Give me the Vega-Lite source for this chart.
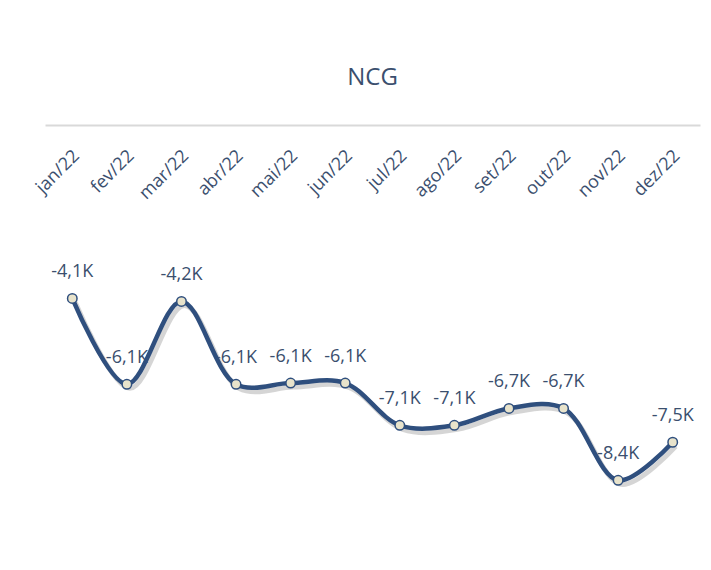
{
  "$schema": "https://vega.github.io/schema/vega-lite/v6.json",
  "width": 655,
  "height": 423,
  "autosize": "none",
  "padding": {"left": 45, "top": 125, "right": 11, "bottom": 22},
  "background": "white",
  "config": {
    "view": {"stroke": null},
    "locale": {"number": {"decimal": ",", "thousands": ".", "grouping": [3], "currency": ["R$", ""], "minus": "-"}},
    "font": "Open Sans"
  },
  "title": {"text": "NCG", "fontSize": 24, "fontWeight": "normal", "color": "#3B4F6E", "font": "Open Sans", "offset": 35},
  "data": {"values": [
    {"mes": "jan/22", "v": -4.1},
    {"mes": "fev/22", "v": -6.13},
    {"mes": "mar/22", "v": -4.17},
    {"mes": "abr/22", "v": -6.13},
    {"mes": "mai/22", "v": -6.1},
    {"mes": "jun/22", "v": -6.1},
    {"mes": "jul/22", "v": -7.1},
    {"mes": "ago/22", "v": -7.1},
    {"mes": "set/22", "v": -6.7},
    {"mes": "out/22", "v": -6.7},
    {"mes": "nov/22", "v": -8.4},
    {"mes": "dez/22", "v": -7.5}
  ]},
  "transform": [{"calculate": "format(datum.v, '.1f') + 'K'", "as": "rot"}],
  "encoding": {
    "x": {"field": "mes", "type": "ordinal", "sort": null,
      "scale": {"type": "point", "padding": 0.5},
      "axis": {"orient": "top", "title": null, "ticks": false, "domainColor": "#D9D9D9", "domainWidth": 2,
        "labelAngle": -45, "labelAlign": "right", "labelBaseline": "middle", "labelPadding": -28, "labelOffset": 4,
        "labelFontSize": 18, "labelColor": "#3B4F6E", "labelFont": "Open Sans"}},
    "y": {"field": "v", "type": "quantitative", "scale": {"domain": [-10, 0], "nice": false, "zero": false}, "axis": null}
  },
  "layer": [
    {"mark": {"type": "text", "dy": -26, "fontSize": 18, "color": "#3B4F6E", "font": "Open Sans"}, "encoding": {"text": {"field": "rot"}}},
    {"mark": {"type": "line", "interpolate": "catmull-rom", "stroke": "#888888", "strokeWidth": 5, "opacity": 0.35, "xOffset": 3, "yOffset": 4}},
    {"mark": {"type": "line", "interpolate": "catmull-rom", "stroke": "#2F4F7E", "strokeWidth": 4.5}},
    {"mark": {"type": "point", "filled": true, "fill": "#E8E3CB", "stroke": "#2F4F7E", "strokeWidth": 1.5, "size": 90, "opacity": 1}}
  ]
}
